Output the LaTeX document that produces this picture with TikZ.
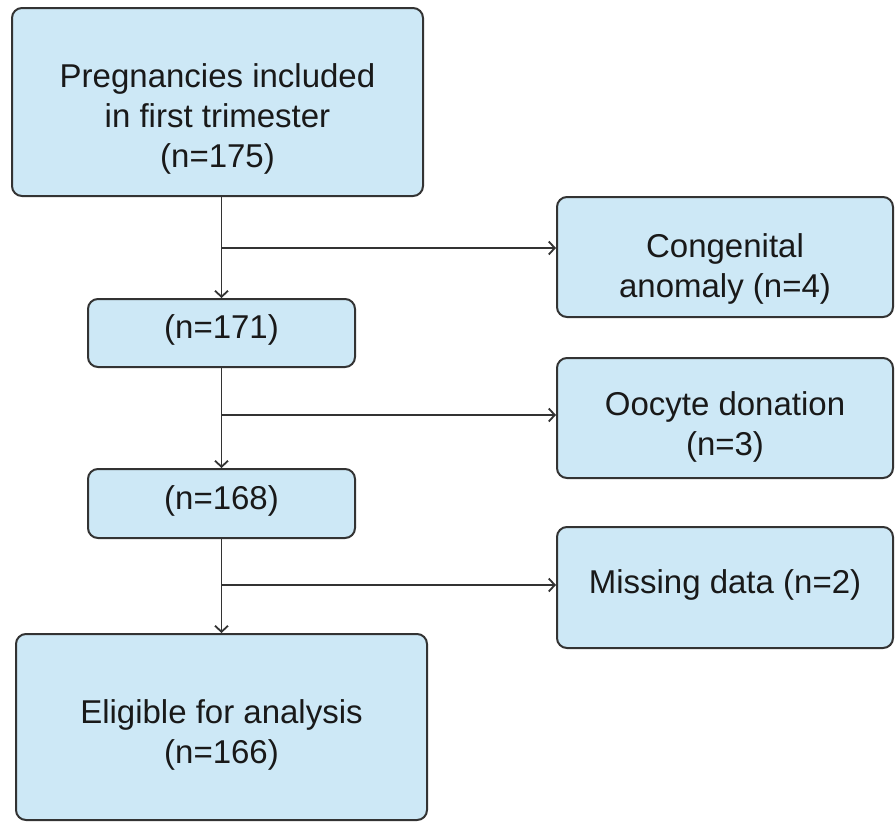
\documentclass[tikz,border=0pt]{standalone}
\usepackage{fontspec}
\setmainfont{Liberation Sans}
\usetikzlibrary{arrows.meta}
\definecolor{boxblue}{HTML}{CDE8F6}
\definecolor{boxline}{HTML}{333333}

\begin{document}
\begin{tikzpicture}[x=1pt,y=-1pt,
        flowbox/.style={draw=boxline,fill=boxblue,line width=2pt,rounded corners=10pt,inner sep=0pt},
        boxtext/.style={align=center,text=black!90,inner sep=0pt,
          font=\fontsize{33}{40}\selectfont},
        link/.style={draw=boxline,line width=1.8pt,-{Straight Barb[length=6pt,width=13pt,line width=1.8pt]}}]
        \useasboundingbox (0,0) rectangle (895,822) ;
        % main column
        \node[flowbox,minimum width=411pt,minimum height=188pt,
        label={[boxtext,yshift=-17pt]center:{Pregnancies included\\in first trimester\\(n=175)}}]
        (p175) at (217.5,102) {} ;
        \node[flowbox,minimum width=267pt,minimum height=68pt,
        label={[boxtext,yshift=3pt]center:{(n=171)}}] (p171) at (221.5,333) {} ;
        \node[flowbox,minimum width=267pt,minimum height=69pt,
        label={[boxtext,yshift=3pt]center:{(n=168)}}] (p168) at (221.5,503.5) {} ;
        \node[flowbox,minimum width=411pt,minimum height=186pt,
        label={[boxtext,yshift=-8pt]center:{Eligible for analysis\\(n=166)}}]
        (p166) at (221.5,727) {} ;
        % excluded
        \node[flowbox,minimum width=336pt,minimum height=120pt,
        label={[boxtext,yshift=-12pt]center:{Congenital\\anomaly (n=4)}}] (anom) at (725,257) {} ;
        \node[flowbox,minimum width=336pt,minimum height=120pt,
        label={[boxtext,yshift=-9pt]center:{Oocyte donation\\(n=3)}}] (oocy) at (725,418) {} ;
        \node[flowbox,minimum width=336pt,minimum height=121pt,
        label={[boxtext,yshift=3pt]center:{Missing data (n=2)}}] (miss) at (725,587.5) {} ;
        % branch points
        \coordinate (j1) at (222,248) ;
        \coordinate (j2) at (222,415) ;
        \coordinate (j3) at (222,585) ;
        \draw[link] (p171.north |- p175.south) -- (p171.north) ;
        \draw[link] (p171.south) -- (p168.north) ;
        \draw[link] (p168.south) -- (p166.north -| p168.south) ;
        \draw[link] (j1) -- (j1 -| anom.west) ;
        \draw[link] (j2) -- (j2 -| oocy.west) ;
        \draw[link] (j3) -- (j3 -| miss.west) ;
      \end{tikzpicture}
\end{document}
